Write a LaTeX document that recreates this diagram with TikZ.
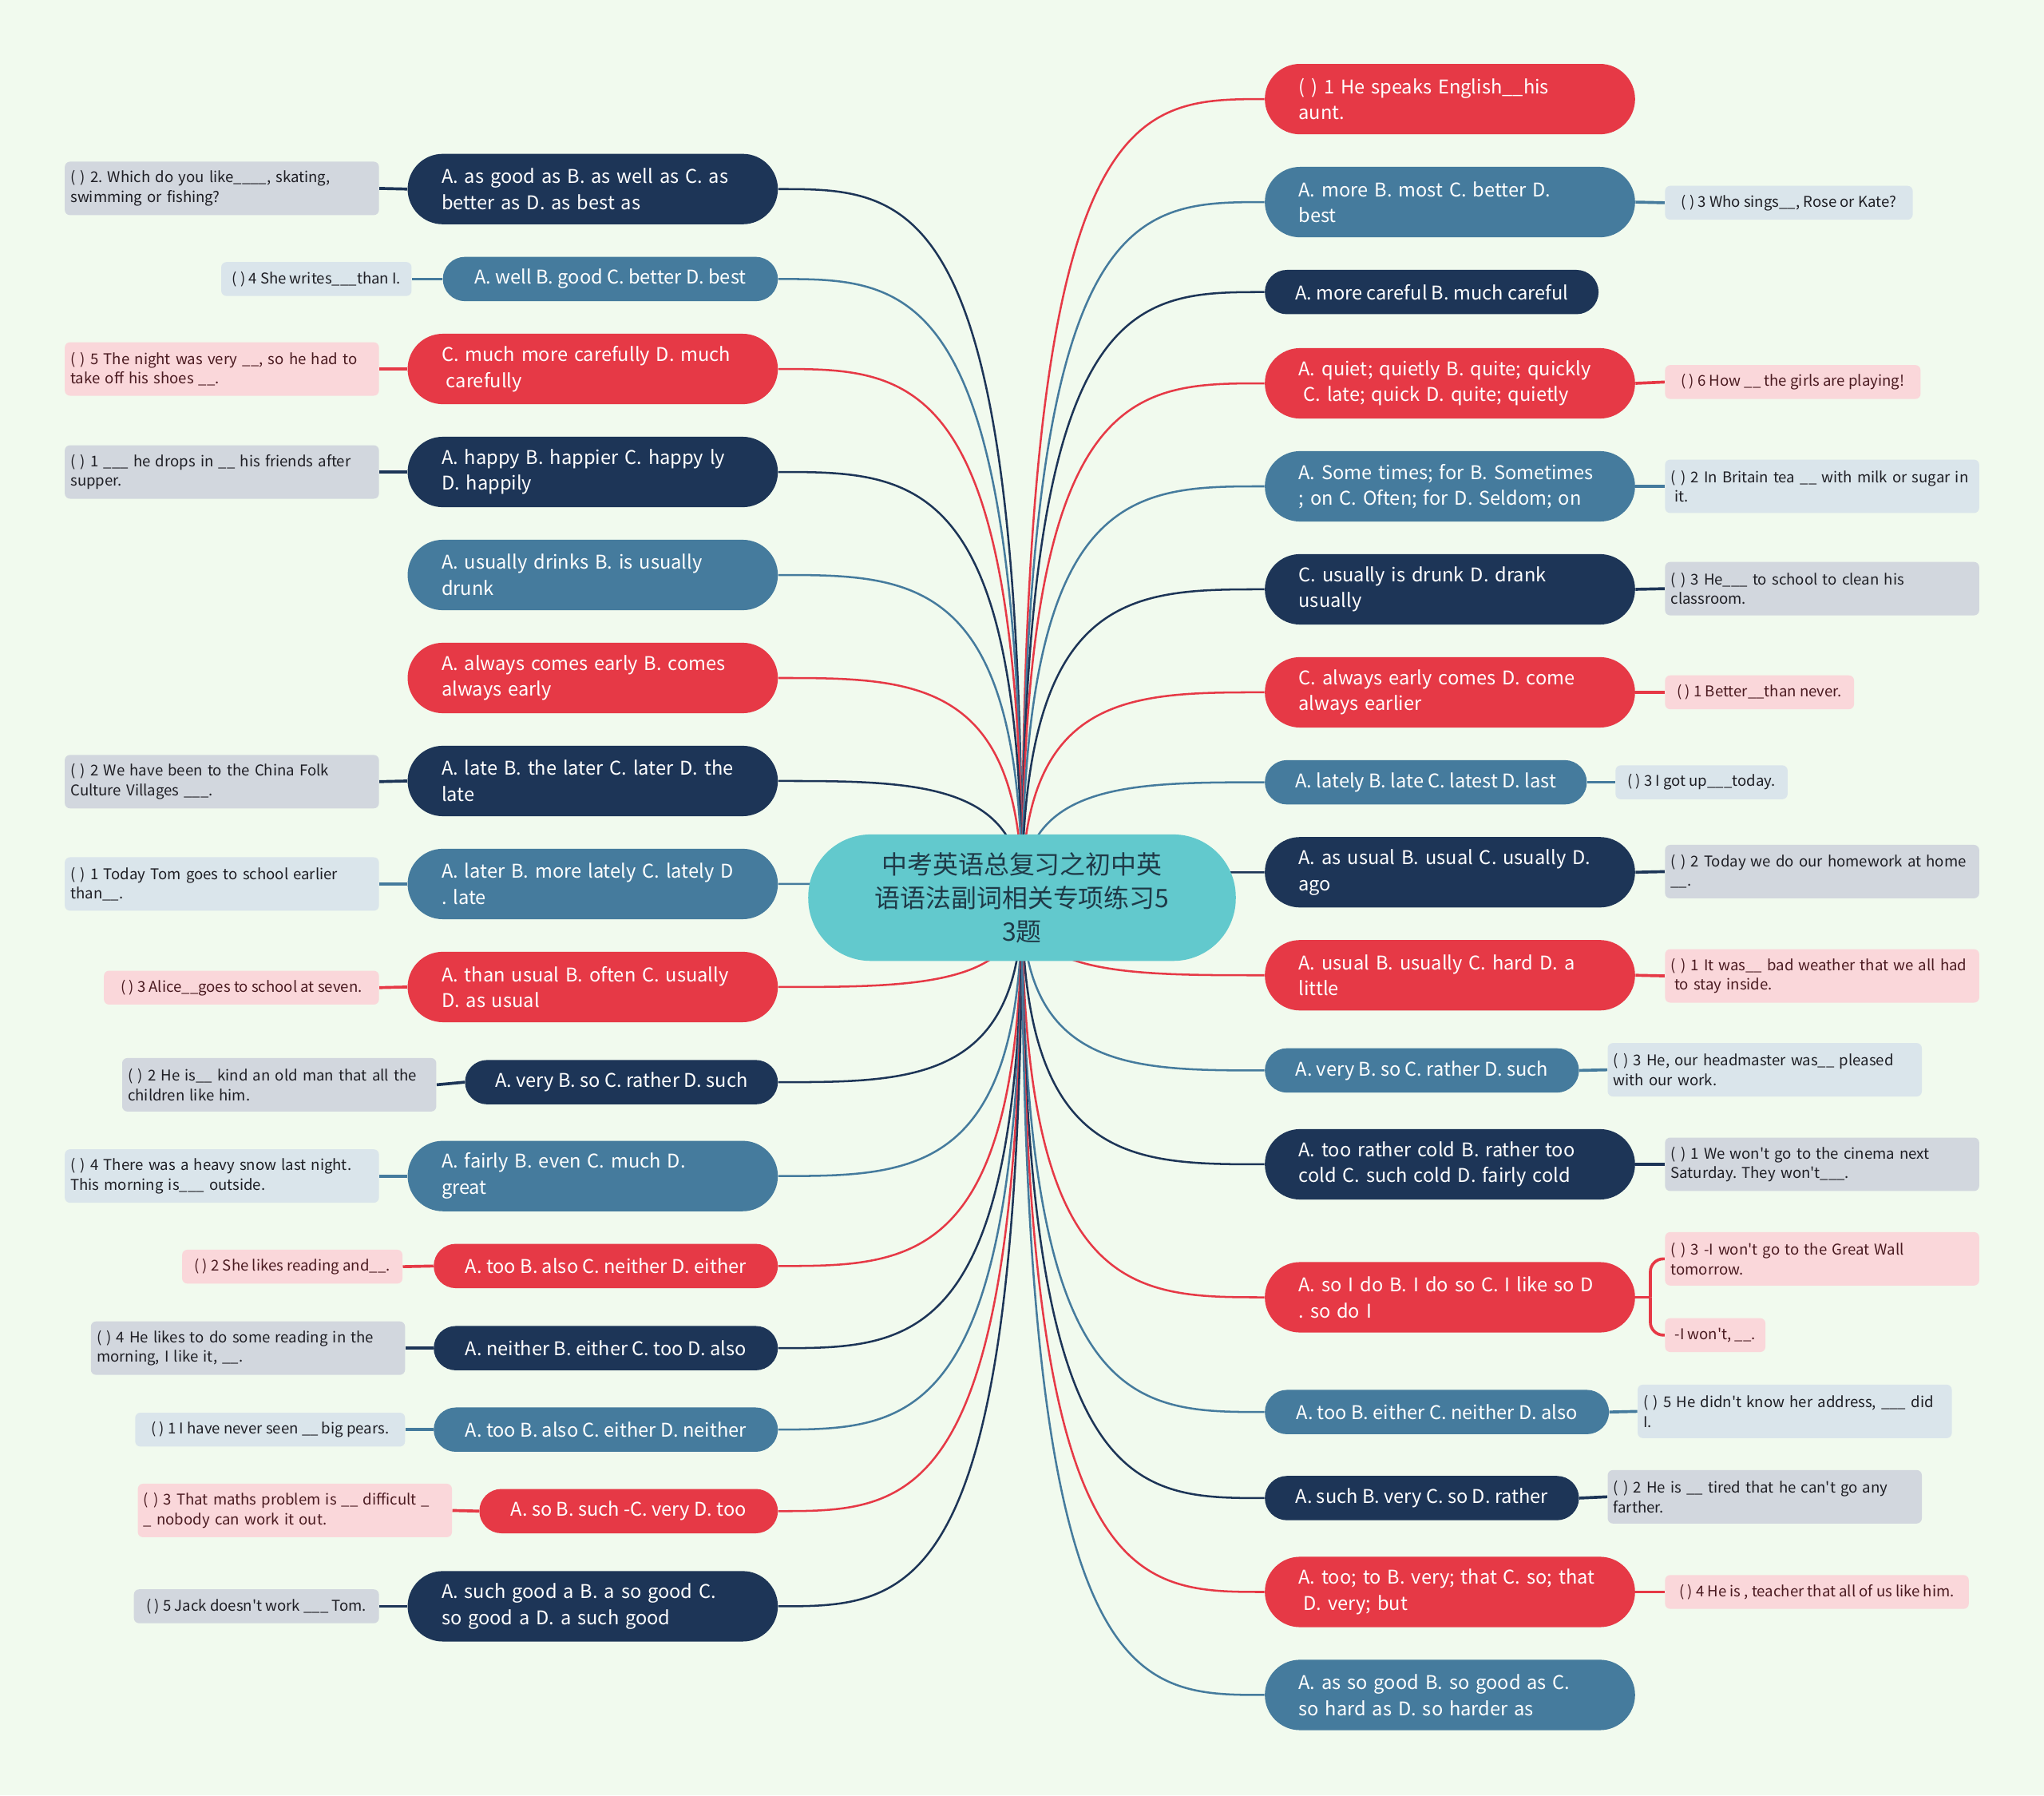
\documentclass[tikz,border=0pt]{standalone}
\usepackage{fontspec}
\setmainfont{Noto Sans CJK SC}[Ligatures=TeXOff]
\usepackage{tikz}

\definecolor{cbg}{HTML}{F1FAEE}
\definecolor{cnavy}{HTML}{1D3557}
\definecolor{csteel}{HTML}{457B9D}
\definecolor{cred}{HTML}{E63946}
\definecolor{cteal}{HTML}{62C9CD}
\definecolor{lnavy}{HTML}{D2D7DE}
\definecolor{lsteel}{HTML}{DAE5EB}
\definecolor{lred}{HTML}{FAD7DA}
\definecolor{ctitle}{HTML}{1F3A48}
\definecolor{tdark}{HTML}{1E1E24}
\definecolor{tred}{HTML}{4A1A20}

\pgfdeclarelayer{bg}
\pgfdeclarelayer{edges}
\pgfsetlayers{bg,edges,main}

\frenchspacing
\hyphenpenalty=10000
\exhyphenpenalty=10000

\begin{document}
\begin{tikzpicture}[x=0.25mm, y=-0.25mm,
		ctrnode/.style={fill=cteal, text=ctitle, rounded corners=12mm, minimum width=82mm, minimum height=24.25mm, align=center, inner sep=0pt, font=\fontsize{13.9pt}{18.4pt}\selectfont},
		twoline/.style={text=white, align=left, text width=58mm, inner xsep=6.5mm, inner ysep=0pt, minimum height=13.5mm, rounded corners=6.75mm, font=\fontsize{10.3pt}{14.2pt}\selectfont},
		oneline/.style={text=white, align=center, inner xsep=0pt, inner ysep=0pt, minimum height=8.5mm, rounded corners=4.25mm, font=\fontsize{10.3pt}{14.2pt}\selectfont},
		brnavy/.style={fill=cnavy},
		brsteel/.style={fill=csteel},
		brred/.style={fill=cred},
		leaf/.style={rounded corners=1mm, inner xsep=1.1mm, inner ysep=0pt, font=\fontsize{8.1pt}{10.65pt}\selectfont},
		leaftwo/.style={leaf, text width=58.05mm, align=left, minimum height=10.25mm},
		leafone/.style={leaf, align=center, minimum height=6.5mm},
		lfnavy/.style={fill=lnavy, text=tdark},
		lfsteel/.style={fill=lsteel, text=tdark},
		lfred/.style={fill=lred, text=tred},
		ednavy/.style={draw=cnavy, line width=1.1pt},
		edsteel/.style={draw=csteel, line width=1.1pt},
		edred/.style={draw=cred, line width=1.1pt},
		lknavy/.style={draw=cnavy, line width=1.6pt},
		lksteel/.style={draw=csteel, line width=1.6pt},
		lkred/.style={draw=cred, line width=1.6pt}]

				\useasboundingbox (0,0) rectangle (1568,1377);
				\begin{pgfonlayer}{bg}
					\fill[cbg] (0,0) rectangle (1568,1377);
				\end{pgfonlayer}

				\node[ctrnode] (ctr) at (784,688.5) {中考英语总复习之初中英\\语语法副词相关专项练习5\\3题};

				\node[twoline, brnavy, anchor=east] (l1) at (597,145) {A. as good as B. as well as C. as\\better as D. as best as};
				\node[oneline, brsteel, anchor=east, minimum width=64.25mm] (l2) at (597,214) {A. well B. good C. better D. best};
				\node[twoline, brred, anchor=east] (l3) at (597,283) {C. much more carefully D. much\\\hspace*{0.25em}carefully};
				\node[twoline, brnavy, anchor=east] (l4) at (597,362) {A. happy B. happier C. happy ly\\D. happily};
				\node[twoline, brsteel, anchor=east] (l5) at (597,441) {A. usually drinks B. is usually\\drunk};
				\node[twoline, brred, anchor=east] (l6) at (597,520) {A. always comes early B. comes\\always early};
				\node[twoline, brnavy, anchor=east] (l7) at (597,599) {A. late B. the later C. later D. the\\late};
				\node[twoline, brsteel, anchor=east] (l8) at (597,678) {A. later B. more lately C. lately D\\. late};
				\node[twoline, brred, anchor=east] (l9) at (597,757) {A. than usual B. often C. usually\\D. as usual};
				\node[oneline, brnavy, anchor=east, minimum width=60mm] (l10) at (597,830) {A. very B. so C. rather D. such};
				\node[twoline, brsteel, anchor=east] (l11) at (597,902) {A. fairly B. even C. much D.\\great};
				\node[oneline, brred, anchor=east, minimum width=66mm] (l12) at (597,971) {A. too B. also C. neither D. either};
				\node[oneline, brnavy, anchor=east, minimum width=66mm] (l13) at (597,1034) {A. neither B. either C. too D. also};
				\node[oneline, brsteel, anchor=east, minimum width=66mm] (l14) at (597,1096.5) {A. too B. also C. either D. neither};
				\node[oneline, brred, anchor=east, minimum width=57.25mm] (l15) at (597,1159) {A. so B. such -C. very D. too};
				\node[twoline, brnavy, anchor=east] (l16) at (597,1232) {A. such good a B. a so good C.\\so good a D. a such good};

				\node[leaftwo, lfnavy, anchor=east] (l1q) at (291,144.5) {( ) 2. Which do you like\_\_\_\_, skating,\\swimming or fishing?};
				\node[leafone, lfsteel, anchor=east, minimum width=36.5mm] (l2q) at (316,214) {( ) 4 She writes\_\_\_than I.};
				\node[leaftwo, lfred, anchor=east] (l3q) at (291,283) {( ) 5 The night was very \_\_, so he had to\\take off his shoes \_\_.};
				\node[leaftwo, lfnavy, anchor=east] (l4q) at (291,362) {( ) 1 \_\_\_ he drops in \_\_ his friends after\\supper.};
				\node[leaftwo, lfnavy, anchor=east] (l7q) at (291,599.5) {( ) 2 We have been to the China Folk\\Culture Villages \_\_\_.};
				\node[leaftwo, lfsteel, anchor=east] (l8q) at (291,678) {( ) 1 Today Tom goes to school earlier\\than\_\_.};
				\node[leafone, lfred, anchor=east, minimum width=52.75mm] (l9q) at (291,757.5) {( ) 3 Alice\_\_goes to school at seven.};
				\node[leaftwo, lfnavy, anchor=east] (l10q) at (335,832) {( ) 2 He is\_\_ kind an old man that all the\\children like him.};
				\node[leaftwo, lfsteel, anchor=east] (l11q) at (291,902) {( ) 4 There was a heavy snow last night.\\This morning is\_\_\_ outside.};
				\node[leafone, lfred, anchor=east, minimum width=42.25mm] (l12q) at (309,971.5) {( ) 2 She likes reading and\_\_.};
				\node[leaftwo, lfnavy, anchor=east] (l13q) at (311,1034) {( ) 4 He likes to do some reading in the\\morning, I like it, \_\_.};
				\node[leafone, lfsteel, anchor=east, minimum width=51.75mm] (l14q) at (311,1096.5) {( ) 1 I have never seen \_\_ big pears.};
				\node[leaftwo, lfred, anchor=east] (l15q) at (347,1158.5) {( ) 3 That maths problem is \_\_ difficult \_\\\_ nobody can work it out.};
				\node[leafone, lfnavy, anchor=east, minimum width=47mm] (l16q) at (291,1232) {( ) 5 Jack doesn't work \_\_\_ Tom.};

				\node[twoline, brred, anchor=west] (r1) at (970,76) {( ) 1 He speaks English\_\_his\\aunt.};
				\node[twoline, brsteel, anchor=west] (r2) at (970,155) {A. more B. most C. better D.\\best};
				\node[oneline, brnavy, anchor=west, minimum width=64mm] (r3) at (970,224) {A. more careful B. much careful};
				\node[twoline, brred, anchor=west] (r4) at (970,294) {A. quiet; quietly B. quite; quickly\\\hspace*{0.25em}C. late; quick D. quite; quietly};
				\node[twoline, brsteel, anchor=west] (r5) at (970,373) {A. Some times; for B. Sometimes\\; on C. Often; for D. Seldom; on};
				\node[twoline, brnavy, anchor=west] (r6) at (970,452) {C. usually is drunk D. drank\\usually};
				\node[twoline, brred, anchor=west] (r7) at (970,531) {C. always early comes D. come\\always earlier};
				\node[oneline, brsteel, anchor=west, minimum width=61.75mm] (r8) at (970,600) {A. lately B. late C. latest D. last};
				\node[twoline, brnavy, anchor=west] (r9) at (970,669) {A. as usual B. usual C. usually D.\\ago};
				\node[twoline, brred, anchor=west] (r10) at (970,748) {A. usual B. usually C. hard D. a\\little};
				\node[oneline, brsteel, anchor=west, minimum width=60.25mm] (r11) at (970,821) {A. very B. so C. rather D. such};
				\node[twoline, brnavy, anchor=west] (r12) at (970,893) {A. too rather cold B. rather too\\cold C. such cold D. fairly cold};
				\node[twoline, brred, anchor=west] (r13) at (970,995) {A. so I do B. I do so C. I like so D\\. so do I};
				\node[oneline, brsteel, anchor=west, minimum width=66mm] (r14) at (970,1083) {A. too B. either C. neither D. also};
				\node[oneline, brnavy, anchor=west, minimum width=60.25mm] (r15) at (970,1149) {A. such B. very C. so D. rather};
				\node[twoline, brred, anchor=west] (r16) at (970,1221) {A. too; to B. very; that C. so; that\\\hspace*{0.25em}D. very; but};
				\node[twoline, brsteel, anchor=west] (r17) at (970,1300) {A. as so good B. so good as C.\\so hard as D. so harder as};

				\node[leafone, lfsteel, anchor=west, minimum width=47.5mm] (r2q) at (1277,155.5) {( ) 3 Who sings\_\_, Rose or Kate?};
				\node[leafone, lfred, anchor=west, minimum width=49mm] (r4q) at (1277,293) {( ) 6 How \_\_ the girls are playing!};
				\node[leaftwo, lfsteel, anchor=west] (r5q) at (1277,373) {( ) 2 In Britain tea \_\_ with milk or sugar in\\\hspace*{0.25em}it.};
				\node[leaftwo, lfnavy, anchor=west] (r6q) at (1277,451.5) {( ) 3 He\_\_\_ to school to clean his\\classroom.};
				\node[leafone, lfred, anchor=west, minimum width=36.25mm] (r7q) at (1277,531) {( ) 1 Better\_\_than never.};
				\node[leafone, lfsteel, anchor=west, minimum width=33mm] (r8q) at (1239,600) {( ) 3 I got up\_\_\_today.};
				\node[leaftwo, lfnavy, anchor=west] (r9q) at (1277,668.5) {( ) 2 Today we do our homework at home\\\_\_.};
				\node[leaftwo, lfred, anchor=west] (r10q) at (1277,748.5) {( ) 1 It was\_\_ bad weather that we all had\\\hspace*{0.25em}to stay inside.};
				\node[leaftwo, lfsteel, anchor=west] (r11q) at (1233,820.5) {( ) 3 He, our headmaster was\_\_ pleased\\with our work.};
				\node[leaftwo, lfnavy, anchor=west] (r12q) at (1277,893) {( ) 1 We won't go to the cinema next\\Saturday. They won't\_\_\_.};
				\node[leaftwo, lfred, anchor=west] (r13a) at (1277,965.5) {( ) 3 -I won't go to the Great Wall\\tomorrow.};
				\node[leafone, lfred, anchor=west, minimum width=19.25mm] (r13b) at (1277,1024) {-I won't, \_\_.};
				\node[leaftwo, lfsteel, anchor=west] (r14q) at (1256,1082.5) {( ) 5 He didn't know her address, \_\_\_ did\\I.};
				\node[leaftwo, lfnavy, anchor=west] (r15q) at (1233,1148) {( ) 2 He is \_\_ tired that he can't go any\\farther.};
				\node[leafone, lfred, anchor=west, minimum width=58.25mm] (r16q) at (1277,1221) {( ) 4 He is , teacher that all of us like him.};

				\coordinate (r13j) at (1266,995);

				\begin{pgfonlayer}{edges}
				\draw[ednavy] (ctr.center) .. controls (784,145) and (700,145) .. (l1.east);
				\draw[edsteel] (ctr.center) .. controls (784,214) and (700,214) .. (l2.east);
				\draw[edred] (ctr.center) .. controls (784,283) and (700,283) .. (l3.east);
				\draw[ednavy] (ctr.center) .. controls (784,362) and (700,362) .. (l4.east);
				\draw[edsteel] (ctr.center) .. controls (784,441) and (700,441) .. (l5.east);
				\draw[edred] (ctr.center) .. controls (784,520) and (700,520) .. (l6.east);
				\draw[ednavy] (ctr.center) .. controls (784,599) and (700,599) .. (l7.east);
				\draw[edsteel] (ctr.center) .. controls (784,678) and (700,678) .. (l8.east);
				\draw[edred] (ctr.center) .. controls (784,757) and (700,757) .. (l9.east);
				\draw[ednavy] (ctr.center) .. controls (784,830) and (700,830) .. (l10.east);
				\draw[edsteel] (ctr.center) .. controls (784,902) and (700,902) .. (l11.east);
				\draw[edred] (ctr.center) .. controls (784,971) and (700,971) .. (l12.east);
				\draw[ednavy] (ctr.center) .. controls (784,1034) and (700,1034) .. (l13.east);
				\draw[edsteel] (ctr.center) .. controls (784,1096) and (700,1096) .. (l14.east);
				\draw[edred] (ctr.center) .. controls (784,1159) and (700,1159) .. (l15.east);
				\draw[ednavy] (ctr.center) .. controls (784,1232) and (700,1232) .. (l16.east);

				\draw[edred] (ctr.center) .. controls (784,76) and (868,76) .. (r1.west);
				\draw[edsteel] (ctr.center) .. controls (784,155) and (868,155) .. (r2.west);
				\draw[ednavy] (ctr.center) .. controls (784,224) and (868,224) .. (r3.west);
				\draw[edred] (ctr.center) .. controls (784,294) and (868,294) .. (r4.west);
				\draw[edsteel] (ctr.center) .. controls (784,373) and (868,373) .. (r5.west);
				\draw[ednavy] (ctr.center) .. controls (784,452) and (868,452) .. (r6.west);
				\draw[edred] (ctr.center) .. controls (784,531) and (868,531) .. (r7.west);
				\draw[edsteel] (ctr.center) .. controls (784,600) and (868,600) .. (r8.west);
				\draw[ednavy] (ctr.center) .. controls (784,669) and (868,669) .. (r9.west);
				\draw[edred] (ctr.center) .. controls (784,748) and (868,748) .. (r10.west);
				\draw[edsteel] (ctr.center) .. controls (784,821) and (868,821) .. (r11.west);
				\draw[ednavy] (ctr.center) .. controls (784,893) and (868,893) .. (r12.west);
				\draw[edred] (ctr.center) .. controls (784,995) and (868,995) .. (r13.west);
				\draw[edsteel] (ctr.center) .. controls (784,1083) and (868,1083) .. (r14.west);
				\draw[ednavy] (ctr.center) .. controls (784,1149) and (868,1149) .. (r15.west);
				\draw[edred] (ctr.center) .. controls (784,1221) and (868,1221) .. (r16.west);
				\draw[edsteel] (ctr.center) .. controls (784,1300) and (868,1300) .. (r17.west);

				\draw[lknavy] (l1.west) -- (l1q.east);
				\draw[lksteel] (l2.west) -- (l2q.east);
				\draw[lkred] (l3.west) -- (l3q.east);
				\draw[lknavy] (l4.west) -- (l4q.east);
				\draw[lknavy] (l7.west) -- (l7q.east);
				\draw[lksteel] (l8.west) -- (l8q.east);
				\draw[lkred] (l9.west) -- (l9q.east);
				\draw[lknavy] (l10.west) -- (l10q.east);
				\draw[lksteel] (l11.west) -- (l11q.east);
				\draw[lkred] (l12.west) -- (l12q.east);
				\draw[lknavy] (l13.west) -- (l13q.east);
				\draw[lksteel] (l14.west) -- (l14q.east);
				\draw[lkred] (l15.west) -- (l15q.east);
				\draw[lknavy] (l16.west) -- (l16q.east);

				\draw[lksteel] (r2.east) -- (r2q.west);
				\draw[lkred] (r4.east) -- (r4q.west);
				\draw[lksteel] (r5.east) -- (r5q.west);
				\draw[lknavy] (r6.east) -- (r6q.west);
				\draw[lkred] (r7.east) -- (r7q.west);
				\draw[lksteel] (r8.east) -- (r8q.west);
				\draw[lknavy] (r9.east) -- (r9q.west);
				\draw[lkred] (r10.east) -- (r10q.west);
				\draw[lksteel] (r11.east) -- (r11q.west);
				\draw[lknavy] (r12.east) -- (r12q.west);
				\draw[lkred] (r13.east) -- (r13j);
				\draw[lkred, rounded corners=2.5mm] (r13j) |- (r13a.west);
				\draw[lkred, rounded corners=2.5mm] (r13j) |- (r13b.west);
				\draw[lksteel] (r14.east) -- (r14q.west);
				\draw[lknavy] (r15.east) -- (r15q.west);
				\draw[lkred] (r16.east) -- (r16q.west);
				\end{pgfonlayer}
		\end{tikzpicture}
\end{document}
